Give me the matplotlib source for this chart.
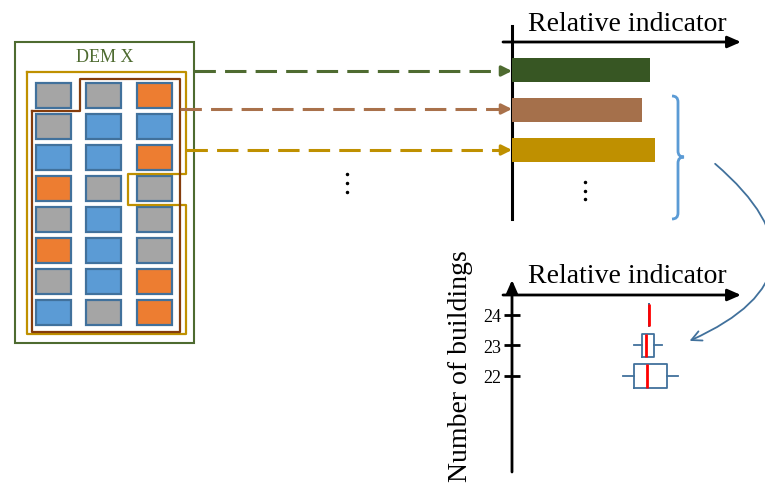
import numpy as np
import matplotlib.pyplot as plt
from matplotlib.patches import Rectangle, FancyArrowPatch, PathPatch
from matplotlib.path import Path

plt.rcParams['font.family'] = ['Liberation Serif', 'DejaVu Serif']

# buildings of DEM X, 8 rows x 3 columns (g = gray, b = blue, o = orange)
cell_colors = [
    ['g', 'g', 'o'],
    ['g', 'b', 'b'],
    ['b', 'b', 'o'],
    ['o', 'g', 'g'],
    ['g', 'b', 'g'],
    ['o', 'b', 'g'],
    ['g', 'b', 'o'],
    ['b', 'g', 'o'],
]
fill = {'g': '#a5a5a5', 'b': '#5b9bd5', 'o': '#ed7d31'}

# relative indicator of the three building subsets
bar_values = [0.61, 0.575, 0.633]
bar_colors = ['#375623', '#a5704b', '#bf9000']
line_colors = ['#4e6b30', '#a9714b', '#bf9000']

# box plot of the indicator per number of buildings
box_n = [22, 23, 24]
box_whislo = [0.491, 0.540, 0.606]
box_q1 = [0.540, 0.575, 0.606]
box_med = [0.597, 0.593, 0.606]
box_q3 = [0.686, 0.628, 0.606]
box_whishi = [0.735, 0.664, 0.606]
box_widths = [0.79, 0.75, 0.75]

W, H = 765, 485


def fig_rect(x0, y0, x1, y1):
    return [x0 / W, 1 - y1 / H, (x1 - x0) / W, (y1 - y0) / H]


fig = plt.figure(figsize=(7.65, 4.85), dpi=100)
ax = fig.add_axes([0, 0, 1, 1])
ax.set_xlim(0, W)
ax.set_ylim(H, 0)
ax.axis('off')

# DEM box
ax.add_patch(Rectangle((15, 43), 179, 301, fill=False, ec='#4e6b30', lw=1.5))
ax.text(105, 58, 'DEM X', ha='center', va='center', color='#4e6b30', fontsize=13)

for r, row in enumerate(cell_colors):
    for c, k in enumerate(row):
        ax.add_patch(Rectangle((36 + c * 50.5, 84 + r * 31), 35, 25,
                               fc=fill[k], ec='#41719c', lw=1.6))

# subset outlines
gold = [(27, 73), (186, 73), (186, 175), (128, 175), (128, 206), (186, 206),
        (186, 335), (27, 335), (27, 73)]
brown = [(32, 112), (80, 112), (80, 80), (180, 80), (180, 333), (32, 333), (32, 112)]
ax.plot(*zip(*gold), color='#bf9000', lw=1.6)
ax.plot(*zip(*brown), color='#843c0c', lw=1.6)

# dashed arrows to bars
for y, x0, c in zip([72, 110, 151], [194, 180, 186], line_colors):
    ax.plot([x0, 500], [y, y], color=c, lw=2.2, dashes=(7, 3))
    ax.annotate('', xy=(512, y), xytext=(502, y),
                arrowprops=dict(arrowstyle='-|>,head_length=0.6,head_width=0.3',
                                color=c, lw=2.2, shrinkA=0, shrinkB=0))

ax.plot([347] * 3, [175, 184, 193], 'k.', ms=3)

# top bar chart
ax_bar = fig.add_axes(fig_rect(512, 43, 738, 220))
ax_bar.barh(range(len(bar_values)), bar_values, height=0.6, color=bar_colors)
ax_bar.set_xlim(0, 1)
ax_bar.set_ylim(3.725, -0.7)
ax_bar.axis('off')

ax.plot([512, 512], [27, 220], color='k', lw=2.2)
ax.annotate('', xy=(741, 43), xytext=(503, 43),
            arrowprops=dict(arrowstyle='-|>,head_length=0.8,head_width=0.35',
                            color='k', lw=2, shrinkA=0, shrinkB=0))
ax.text(627, 31, 'Relative indicator', ha='center', va='baseline', fontsize=20)
ax.plot([585] * 3, [183, 192, 200], 'k.', ms=3)

# brace
verts = [(672, 97), (678, 97), (678, 103), (678, 152), (678, 158), (684, 158),
         (678, 158), (678, 164), (678, 214), (678, 220), (672, 220)]
codes = [Path.MOVETO, Path.CURVE3, Path.CURVE3, Path.LINETO, Path.CURVE3, Path.CURVE3,
         Path.CURVE3, Path.CURVE3, Path.LINETO, Path.CURVE3, Path.CURVE3]
ax.add_patch(PathPatch(Path(verts, codes), fill=False, ec='#5b9bd5', lw=2))

ax.add_patch(FancyArrowPatch((713, 163), (687, 343), connectionstyle='arc3,rad=-0.8',
                             arrowstyle='->,head_length=0.6,head_width=0.3',
                             mutation_scale=12, color='#41719c', lw=1.3))

# bottom box plot
ax_box = fig.add_axes(fig_rect(512, 296, 738, 473))
ax_box.patch.set_alpha(0)
stats = [dict(med=m, q1=a, q3=b, whislo=lo, whishi=hi, fliers=[])
         for m, a, b, lo, hi in zip(box_med, box_q1, box_q3, box_whislo, box_whishi)]
ax_box.bxp(stats, positions=box_n, widths=box_widths, orientation='horizontal',
           showcaps=False, showfliers=False,
           boxprops=dict(color='#41719c', lw=1.3),
           whiskerprops=dict(color='#41719c', lw=1.3),
           medianprops=dict(color='red', lw=2))
ax_box.set_xlim(0, 1)
ax_box.set_ylim(18.85, 24.656)
for s in ax_box.spines.values():
    s.set_visible(False)
ax_box.set_xticks([])
ax_box.set_yticks(box_n)
ax_box.set_yticklabels([str(n) for n in box_n])
ax_box.tick_params(axis='y', direction='inout', length=12, width=2, labelsize=13, pad=2)

ax.annotate('', xy=(512, 281), xytext=(512, 473),
            arrowprops=dict(arrowstyle='-|>,head_length=0.8,head_width=0.35',
                            color='k', lw=2, shrinkA=0, shrinkB=0))
ax.annotate('', xy=(741, 296), xytext=(503, 296),
            arrowprops=dict(arrowstyle='-|>,head_length=0.8,head_width=0.35',
                            color='k', lw=2, shrinkA=0, shrinkB=0))
ax.text(627, 283, 'Relative indicator', ha='center', va='baseline', fontsize=20)
ax.text(461, 366, 'Number of buildings', ha='center', va='center', rotation=90, fontsize=20)

fig.savefig('out.png', dpi=100)
